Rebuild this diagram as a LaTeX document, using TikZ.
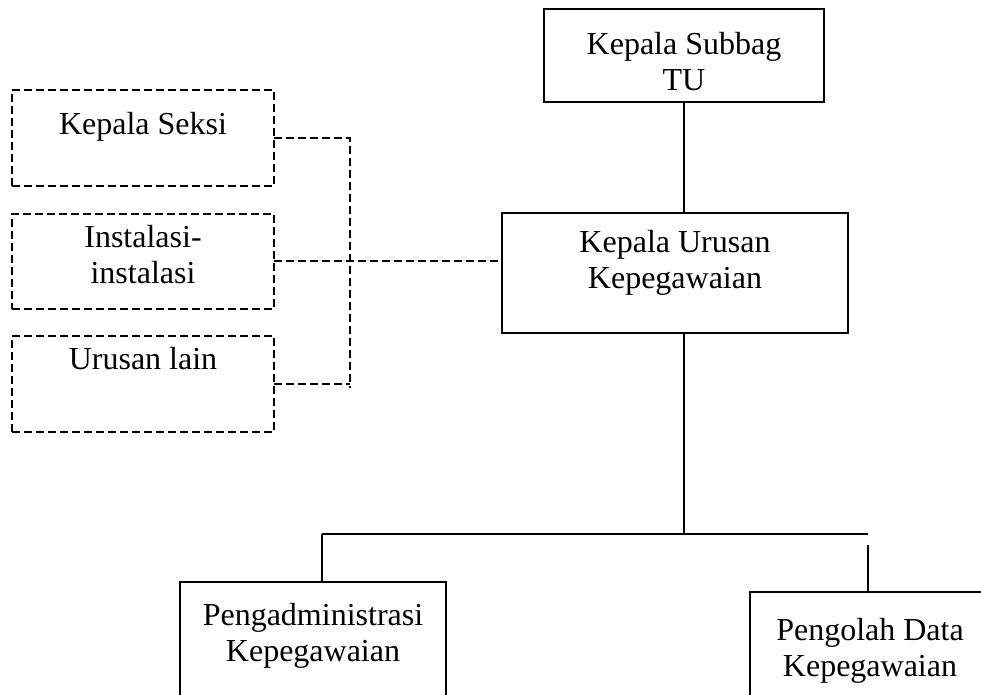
\documentclass[tikz,border=0pt]{standalone}
\usepackage{fontspec}
\setmainfont{Liberation Serif}
\usepackage{tikz}

\begin{document}
\begin{tikzpicture}[x=0.5pt,y=-0.5pt,
    box/.style={draw,line width=1pt,inner sep=0pt,outer sep=0pt},
    dbox/.style={box,dash pattern=on 4pt off 2pt},
    txt/.style={anchor=north,align=center,inner sep=0pt,
                font=\fontsize{16}{18}\selectfont},
    link/.style={line width=1pt},
    dashline/.style={line width=1pt,dash pattern=on 4pt off 2pt}]
  \clip (0,0) rectangle (981,695);
  \node[box,minimum width=140pt,minimum height=46.5pt,
        label={[txt,yshift=-11.5pt]north:Kepala Subbag\\TU}] (subbag) at (684,55.5) {};
  \node[box,minimum width=173pt,minimum height=60pt,
        label={[txt,yshift=-8.5pt]north:Kepala Urusan\\Kepegawaian}] (urusan) at (675,273) {};
  \node[dbox,minimum width=131pt,minimum height=48pt,
        label={[txt,yshift=-11pt]north:Kepala Seksi}] (seksi) at (143,138) {};
  \node[dbox,minimum width=131pt,minimum height=47.5pt,
        label={[txt,yshift=-5.5pt]north:Instalasi-\\instalasi}] (instalasi) at (143,261.5) {};
  \node[dbox,minimum width=131pt,minimum height=48pt,
        label={[txt,yshift=-5.5pt]north:Urusan lain}] (lain) at (143,384) {};
  \node[box,minimum width=133pt,minimum height=69pt,
        label={[txt,yshift=-10.5pt]north:Pengadministrasi\\Kepegawaian}] (pengadm) at (313,651) {};
  \node[box,minimum width=120pt,minimum height=64pt,
        label={[txt,yshift=-13pt]north:Pengolah Data\\Kepegawaian}] (pengolah) at (870,656) {};

  \coordinate (bus) at (684,534);
  \coordinate (busL) at (322,534);
  \coordinate (busR) at (868,534);
  \coordinate (stubR) at (868,545);
  \coordinate (trunk) at (350,388);

  \draw[link] (subbag.south) -- (subbag.south |- urusan.north);
  \draw[link] (urusan.south -| bus) -- (bus);
  \draw[link] (busL) -- (busR);
  \draw[link] (busL) -- (busL |- pengadm.north);
  \draw[link] (stubR) -- (stubR |- pengolah.north);

  \draw[dashline] (seksi.east) -| (trunk);
  \draw[dashline] (lain.east) -- (lain.east -| trunk);
  \draw[dashline] (instalasi.east) -- (instalasi.east -| urusan.west);
\end{tikzpicture}
\end{document}
